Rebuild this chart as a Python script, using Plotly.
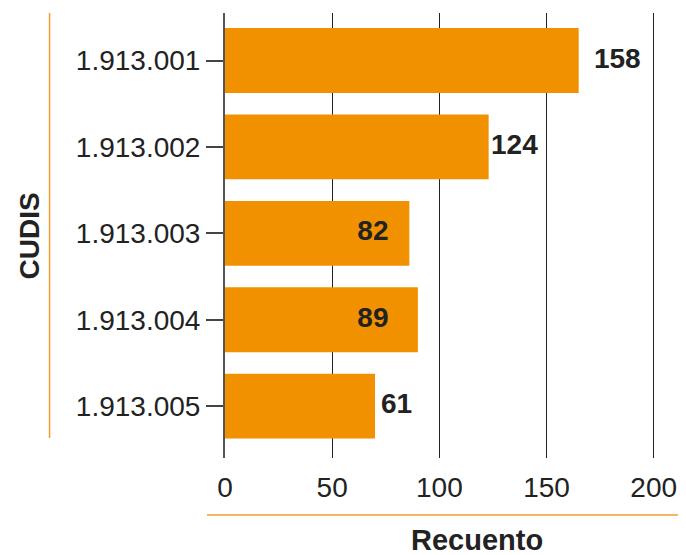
import plotly.graph_objects as go

# CUDIS codes and counts
codes = ["1.913.001", "1.913.002", "1.913.003", "1.913.004", "1.913.005"]
bar_values = [165, 123, 86, 90, 70]
label_text = ["158", "124", "82", "89", "61"]
label_pos = [183, 135, 69, 69, 80]
x_ticks = [0, 50, 100, 150, 200]

ORANGE = "#F29100"
FONT = "Liberation Sans, Arial, sans-serif"

fig = go.Figure()

fig.add_trace(go.Bar(
    y=codes,
    x=bar_values,
    orientation="h",
    marker=dict(color=ORANGE, line=dict(width=0)),
    hoverinfo="skip",
))

fig.add_trace(go.Scatter(
    y=codes,
    x=label_pos,
    mode="text",
    text=label_text,
    textfont=dict(family=FONT, size=28, color="#222222", weight="bold"),
    hoverinfo="skip",
))

fig.update_xaxes(
    range=[0, 200.6],
    tickvals=x_ticks,
    showgrid=True,
    gridcolor="#222222",
    gridwidth=1,
    zeroline=False,
    showline=False,
    ticks="",
    ticklabelstandoff=10,
    tickfont=dict(family=FONT, size=28, color="#222222"),
    layer="above traces",
    fixedrange=True,
)

fig.update_yaxes(
    type="category",
    categoryorder="array",
    categoryarray=codes,
    range=[4.6, -0.55],
    showgrid=False,
    showline=True,
    linecolor="#555555",
    linewidth=2,
    ticks="outside",
    ticklen=17,
    tickcolor="#444444",
    tickwidth=1.5,
    tickfont=dict(family=FONT, size=28, color="#222222"),
    layer="above traces",
    fixedrange=True,
)

fig.add_annotation(
    text="<b>CUDIS</b>", xref="paper", yref="paper",
    x=-0.4535, y=0.5, xanchor="center", yanchor="middle",
    textangle=-90, showarrow=False,
    font=dict(family=FONT, size=28, color="#222222"),
)
fig.add_annotation(
    text="<b>Recuento</b>", xref="paper", yref="paper",
    x=0.585, y=-0.184, xanchor="center", yanchor="middle",
    showarrow=False,
    font=dict(family=FONT, size=29, color="#222222"),
)

# orange separator lines next to the axis titles
fig.add_shape(type="line", xref="paper", yref="paper",
              x0=-0.408, x1=-0.408, y0=0.045, y1=1,
              line=dict(color="#F0A030", width=1.5))
fig.add_shape(type="line", xref="paper", yref="paper",
              x0=-0.042, x1=1.08, y0=-0.128, y1=-0.128,
              line=dict(color="#F0A030", width=1.5))

# page body has an 8px margin, so the figure is a bit smaller than the window
fig.update_layout(
    width=678,
    height=547,
    margin=dict(l=217, r=31, t=5, b=97),
    bargap=0.25,
    showlegend=False,
    plot_bgcolor="white",
    paper_bgcolor="white",
    font=dict(family=FONT),
)

fig.write_html("out.html")
